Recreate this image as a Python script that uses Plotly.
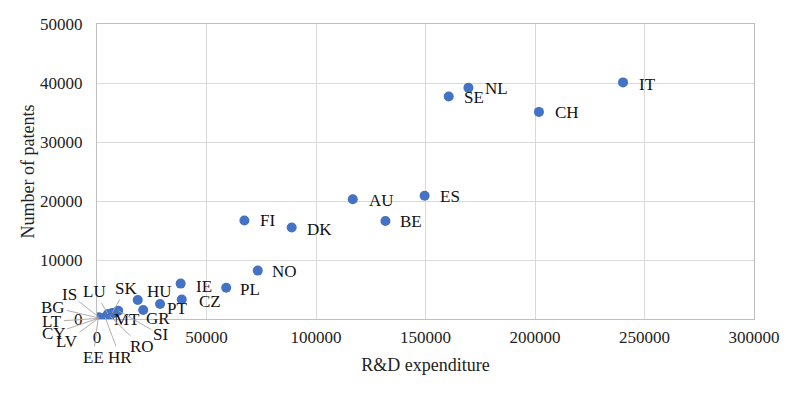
import plotly.graph_objects as go

# ---- data ----
countries = ["IT", "NL", "SE", "CH", "ES", "AU", "BE", "FI", "DK", "NO", "PL", "IE", "CZ",
             "HU", "PT", "GR", "SK", "MT", "SI", "RO", "HR", "LU", "IS", "BG", "LT", "CY", "LV", "EE"]
rd_expenditure = [240200, 169600, 160600, 201800, 149600, 116800, 131700, 67300, 88900, 73400, 59000, 38200, 38700,
                  18600, 28800, 21100, 6900, 8200, 9700, 5900, 3700, 5000, 800, 1000, 600, 300, 400, 500]
patents = [40100, 39200, 37700, 35100, 20900, 20300, 16600, 16700, 15500, 8200, 5300, 6000, 3300,
           3230, 2550, 1530, 1000, 1070, 1410, 510, 290, 850, 300, 150, 100, 80, 60, 100]

x_ticks = [0, 50000, 100000, 150000, 200000, 250000, 300000]
y_ticks = [0, 10000, 20000, 30000, 40000, 50000]

# ---- label placement (pixel offsets: dx right, dy down; arrow=True draws a leader line) ----
label_style = {
    "IT": (24, 2, False), "NL": (28, 1, False), "SE": (25, 1, False), "CH": (28, 1, False),
    "ES": (25, 1, False), "AU": (29, 1, False), "BE": (26, 0, False), "FI": (23, 0, False),
    "DK": (28, 2, False), "NO": (27, 1, False), "PL": (24, 2, False), "IE": (23, 3, False),
    "CZ": (28, 2, False), "HU": (22, -8, False), "PT": (17, 5, False), "GR": (15, 9, False),
    "SK": (14, -25, True), "MT": (12, 7, False),
    "SI": (42, 24, True), "RO": (32, 31, True), "HR": (15, 40, True), "LU": (-13, -22, True),
    "IS": (-29, -23, True), "BG": (-46, -11, True), "LT": (-46, 3, True), "CY": (-44, 15, True),
    "LV": (-31, 23, True), "EE": (-5, 39, True),
}

serif = "Liberation Serif, Times New Roman, serif"

fig = go.Figure()
fig.add_trace(go.Scatter(
    x=rd_expenditure, y=patents, mode="markers",
    marker=dict(color="#4472C4", size=10),
    hoverinfo="text", text=countries, showlegend=False,
))

annotations = []
for c, xv, yv in zip(countries, rd_expenditure, patents):
    dx, dy, arrow = label_style[c]
    if arrow:
        annotations.append(dict(
            x=xv, y=yv, xref="x", yref="y", text=c, showarrow=True,
            ax=dx, ay=dy, arrowhead=0, arrowwidth=0.9, arrowcolor="#a6a6a6",
            standoff=0, font=dict(family=serif, size=17, color="#111111"),
        ))
    else:
        annotations.append(dict(
            x=xv, y=yv, xref="x", yref="y", text=c, showarrow=False,
            xshift=dx, yshift=-dy, font=dict(family=serif, size=17, color="#111111"),
        ))

fig.update_layout(
    width=800, height=390,
    margin=dict(l=89, r=54, t=16, b=79),
    paper_bgcolor="white", plot_bgcolor="white",
    font=dict(family=serif, size=17, color="#222222"),
    annotations=annotations,
    xaxis=dict(
        range=[0, 300000], tickvals=x_ticks, tickformat="d",
        showgrid=True, gridcolor="#d9d9d9", gridwidth=1,
        zeroline=False, showline=True, linecolor="#bfbfbf", mirror=True,
        ticks="", ticklabelstandoff=3, automargin=False,
        title=dict(text="R&D expenditure", font=dict(family=serif, size=18), standoff=11),
        tickfont=dict(family=serif, size=17),
        fixedrange=True,
    ),
    yaxis=dict(
        range=[0, 50000], tickvals=y_ticks, tickformat="d",
        showgrid=True, gridcolor="#d9d9d9", gridwidth=1,
        zeroline=False, showline=True, linecolor="#bfbfbf", mirror=True,
        ticks="", ticklabelstandoff=10, automargin=False,
        title=dict(text="Number of patents", font=dict(family=serif, size=18), standoff=0),
        tickfont=dict(family=serif, size=17),
        fixedrange=True,
    ),
)

fig.write_html("out.html")
